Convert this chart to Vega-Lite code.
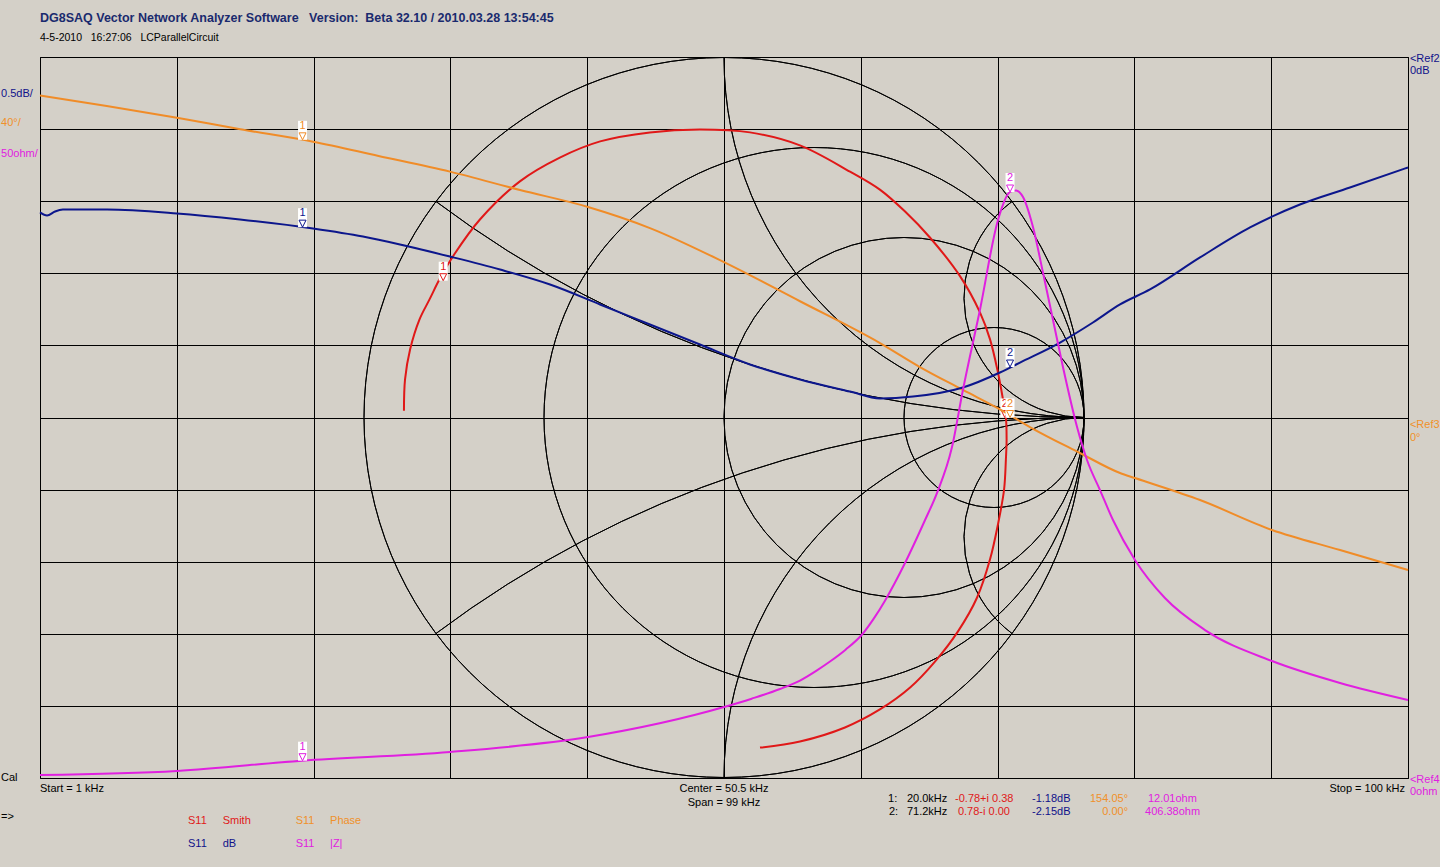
{
  "$schema": "https://vega.github.io/schema/vega-lite/v6.json",
  "width": 1368,
  "height": 721,
  "autosize": "none",
  "padding": {"left": 40, "top": 57, "right": 32, "bottom": 89},
  "background": "#d4d0c8",
  "config": {"view": {"stroke": "#000000", "strokeWidth": 1}, "font": "Liberation Sans"},
  "title": {
    "text": "DG8SAQ Vector Network Analyzer Software \u00a0 Version: \u00a0Beta 32.10 / 2010.03.28 13:54:45",
    "subtitle": "4-5-2010 \u00a0 16:27:06 \u00a0 LCParallelCircuit",
    "anchor": "start",
    "frame": "group",
    "font": "Liberation Sans",
    "fontSize": 12.5,
    "fontWeight": "bold",
    "color": "#1a2a6e",
    "subtitleFont": "Liberation Sans",
    "subtitleFontSize": 10.5,
    "subtitleColor": "#000000",
    "subtitlePadding": 9,
    "offset": 9
  },
  "resolve": {"scale": {"x": "independent", "y": "independent", "color": "independent"}},
  "layer": [
    {
      "layer": [
        {
          "data": {"values": [
            {"cx": 0, "cy": 0, "r": 1, "t0": 0, "t1": 6.2832},
            {"cx": 0.25, "cy": 0, "r": 0.75, "t0": 0, "t1": 6.2832},
            {"cx": 0.5, "cy": 0, "r": 0.5, "t0": 0, "t1": 6.2832},
            {"cx": 0.75, "cy": 0, "r": 0.25, "t0": 0, "t1": 6.2832},
            {"cx": 1, "cy": 1, "r": 1, "t0": 3.1416, "t1": 4.7124},
            {"cx": 1, "cy": -1, "r": 1, "t0": -1.5708, "t1": 0},
            {"cx": 1, "cy": 0.33333, "r": 0.33333, "t0": 3.1416, "t1": 5.6397},
            {"cx": 1, "cy": -0.33333, "r": 0.33333, "t0": -2.4981, "t1": 0},
            {"cx": 1, "cy": 3, "r": 3, "t0": 3.1416, "t1": 3.7851},
            {"cx": 1, "cy": -3, "r": 3, "t0": -0.6435, "t1": 0}
          ]},
          "mark": {"type": "arc", "filled": false, "stroke": "#000000", "strokeWidth": 1, "fillOpacity": 0},
          "encoding": {
            "x": {"field": "cx", "type": "quantitative", "scale": {"domain": [-1.9, 1.9], "nice": false, "zero": false}, "axis": null},
            "y": {"field": "cy", "type": "quantitative", "scale": {"domain": [-1.0014, 1.0014], "nice": false, "zero": false}, "axis": null},
            "theta": {"field": "t0", "type": "quantitative", "scale": null, "stack": null},
            "theta2": {"field": "t1"},
            "radius": {"field": "r", "type": "quantitative", "scale": {"type": "linear", "domain": [0, 1], "range": [0, 360], "zero": true}},
            "radius2": {"field": "r"}
          }
        },
        {
          "data": {"values": [
            {"i": 0, "re": -0.889, "im": 0.019},
            {"i": 1, "re": -0.886, "im": 0.106},
            {"i": 2, "re": -0.872, "im": 0.189},
            {"i": 3, "re": -0.846, "im": 0.272},
            {"i": 4, "re": -0.818, "im": 0.328},
            {"i": 5, "re": -0.787, "im": 0.39},
            {"i": 6, "re": -0.75, "im": 0.452},
            {"i": 7, "re": -0.678, "im": 0.55},
            {"i": 8, "re": -0.567, "im": 0.656},
            {"i": 9, "re": -0.456, "im": 0.722},
            {"i": 10, "re": -0.344, "im": 0.767},
            {"i": 11, "re": -0.206, "im": 0.792},
            {"i": 12, "re": -0.067, "im": 0.8},
            {"i": 13, "re": 0.072, "im": 0.792},
            {"i": 14, "re": 0.211, "im": 0.756},
            {"i": 15, "re": 0.35, "im": 0.683},
            {"i": 16, "re": 0.433, "im": 0.633},
            {"i": 17, "re": 0.503, "im": 0.572},
            {"i": 18, "re": 0.572, "im": 0.5},
            {"i": 19, "re": 0.656, "im": 0.392},
            {"i": 20, "re": 0.711, "im": 0.292},
            {"i": 21, "re": 0.739, "im": 0.217},
            {"i": 22, "re": 0.761, "im": 0.125},
            {"i": 23, "re": 0.775, "im": 0.05},
            {"i": 24, "re": 0.783, "im": 0},
            {"i": 25, "re": 0.785, "im": -0.061},
            {"i": 26, "re": 0.783, "im": -0.117},
            {"i": 27, "re": 0.778, "im": -0.2},
            {"i": 28, "re": 0.761, "im": -0.297},
            {"i": 29, "re": 0.739, "im": -0.394},
            {"i": 30, "re": 0.703, "im": -0.5},
            {"i": 31, "re": 0.65, "im": -0.594},
            {"i": 32, "re": 0.586, "im": -0.678},
            {"i": 33, "re": 0.517, "im": -0.75},
            {"i": 34, "re": 0.433, "im": -0.811},
            {"i": 35, "re": 0.336, "im": -0.861},
            {"i": 36, "re": 0.211, "im": -0.9},
            {"i": 37, "re": 0.1, "im": -0.917}
          ]},
          "mark": {"type": "line", "color": "#e01818", "strokeWidth": 2, "interpolate": "catmull-rom"},
          "encoding": {
            "x": {"field": "re", "type": "quantitative", "axis": null},
            "y": {"field": "im", "type": "quantitative", "axis": null},
            "order": {"field": "i", "type": "quantitative"}
          }
        },
        {
          "data": {"values": [
            {"re": -0.78, "im": 0.38, "lbl": "1"},
            {"re": 0.78, "im": 0, "lbl": "2"}
          ]},
          "encoding": {
            "x": {"field": "re", "type": "quantitative", "axis": null},
            "y": {"field": "im", "type": "quantitative", "axis": null}
          },
          "layer": [
            {"mark": {"type": "point", "shape": "M-4.5,-19H4.5V0H-4.5Z", "size": 4, "filled": true, "color": "#ffffff", "opacity": 1, "strokeWidth": 0}},
            {"mark": {"type": "point", "shape": "M-3.5,-7H3.5L0,0Z", "size": 4, "filled": false, "color": "#e01818", "opacity": 1, "strokeWidth": 1}},
            {"mark": {"type": "text", "dy": -14, "fontSize": 11, "color": "#e01818"}, "encoding": {"text": {"field": "lbl"}}}
          ]
        }
      ]
    },
    {
      "layer": [
        {
          "data": {"values": [
            {"f": 1.0, "v": 178.6}, {"f": 5.83, "v": 172.8}, {"f": 10.91, "v": 166.3}, {"f": 15.5, "v": 159.9},
            {"f": 20.76, "v": 153.0}, {"f": 25.5, "v": 145.1}, {"f": 30.67, "v": 136.4}, {"f": 35.74, "v": 126.2},
            {"f": 40.66, "v": 116.8}, {"f": 45.14, "v": 105.1}, {"f": 50.5, "v": 86.2}, {"f": 56.0, "v": 64.5},
            {"f": 61.79, "v": 41.3}, {"f": 64.68, "v": 28.0}, {"f": 67.79, "v": 15.3}, {"f": 70.69, "v": 3.6},
            {"f": 72.64, "v": -5.3}, {"f": 76.26, "v": -19.7}, {"f": 79.16, "v": -30.8}, {"f": 80.24, "v": -33.6},
            {"f": 84.95, "v": -45.8}, {"f": 90.16, "v": -62.4}, {"f": 95.08, "v": -73.5}, {"f": 100, "v": -84.6}
          ]},
          "mark": {"type": "line", "color": "#f08c28", "strokeWidth": 2, "interpolate": "monotone"},
          "encoding": {
            "x": {"field": "f", "type": "quantitative", "scale": {"domain": [1, 100], "nice": false, "zero": false},
              "axis": {"values": [1, 10.9, 20.8, 30.7, 40.6, 50.5, 60.4, 70.3, 80.2, 90.1, 100], "grid": true, "gridColor": "#000000", "gridOpacity": 1, "gridWidth": 1, "labels": false, "ticks": false, "domain": false, "title": null}},
            "y": {"field": "v", "type": "quantitative", "scale": {"domain": [-200, 200], "nice": false, "zero": false},
              "axis": {"values": [-200, -160, -120, -80, -40, 0, 40, 80, 120, 160, 200], "grid": true, "gridColor": "#000000", "gridOpacity": 1, "gridWidth": 1, "labels": false, "ticks": false, "domain": false, "title": null}}
          }
        },
        {
          "data": {"values": [
            {"f": 20.0, "v": 154.05, "lbl": "1"},
            {"f": 71.2, "v": 0, "lbl": "2"}
          ]},
          "encoding": {
            "x": {"field": "f", "type": "quantitative"},
            "y": {"field": "v", "type": "quantitative"}
          },
          "layer": [
            {"mark": {"type": "point", "shape": "M-4.5,-19H4.5V0H-4.5Z", "size": 4, "filled": true, "color": "#ffffff", "opacity": 1, "strokeWidth": 0}},
            {"mark": {"type": "point", "shape": "M-3.5,-7H3.5L0,0Z", "size": 4, "filled": false, "color": "#f08c28", "opacity": 1, "strokeWidth": 1}},
            {"mark": {"type": "text", "dy": -14, "fontSize": 11, "color": "#f08c28"}, "encoding": {"text": {"field": "lbl"}}}
          ]
        }
      ]
    },
    {
      "layer": [
        {
          "data": {"values": [
            {"f": 1.0, "v": -1.078}, {"f": 1.51, "v": -1.099}, {"f": 2.09, "v": -1.071}, {"f": 2.66, "v": -1.058},
            {"f": 5.85, "v": -1.058}, {"f": 10.91, "v": -1.085}, {"f": 15.47, "v": -1.127}, {"f": 20.76, "v": -1.189},
            {"f": 24.37, "v": -1.245}, {"f": 27.05, "v": -1.30}, {"f": 30.67, "v": -1.384}, {"f": 34.29, "v": -1.474},
            {"f": 37.91, "v": -1.578}, {"f": 41.53, "v": -1.716}, {"f": 45.14, "v": -1.855}, {"f": 48.76, "v": -1.994},
            {"f": 52.38, "v": -2.132}, {"f": 56.0, "v": -2.236}, {"f": 59.62, "v": -2.32}, {"f": 61.79, "v": -2.368},
            {"f": 64.18, "v": -2.355}, {"f": 67.79, "v": -2.292}, {"f": 70.47, "v": -2.188}, {"f": 71.92, "v": -2.119},
            {"f": 74.82, "v": -1.98}, {"f": 77.2, "v": -1.841}, {"f": 79.16, "v": -1.716}, {"f": 81.33, "v": -1.612},
            {"f": 84.95, "v": -1.39}, {"f": 88.57, "v": -1.182}, {"f": 92.18, "v": -1.023}, {"f": 95.8, "v": -0.905},
            {"f": 100, "v": -0.766}
          ]},
          "mark": {"type": "line", "color": "#0c168c", "strokeWidth": 2, "interpolate": "monotone"},
          "encoding": {
            "x": {"field": "f", "type": "quantitative", "scale": {"domain": [1, 100], "nice": false, "zero": false}, "axis": null},
            "y": {"field": "v", "type": "quantitative", "scale": {"domain": [-5, 0], "nice": false, "zero": false}, "axis": null}
          }
        },
        {
          "data": {"values": [
            {"f": 20.0, "v": -1.18, "lbl": "1"},
            {"f": 71.2, "v": -2.15, "lbl": "2"}
          ]},
          "encoding": {
            "x": {"field": "f", "type": "quantitative"},
            "y": {"field": "v", "type": "quantitative"}
          },
          "layer": [
            {"mark": {"type": "point", "shape": "M-4.5,-19H4.5V0H-4.5Z", "size": 4, "filled": true, "color": "#ffffff", "opacity": 1, "strokeWidth": 0}},
            {"mark": {"type": "point", "shape": "M-3.5,-7H3.5L0,0Z", "size": 4, "filled": false, "color": "#0c168c", "opacity": 1, "strokeWidth": 1}},
            {"mark": {"type": "text", "dy": -14, "fontSize": 11, "color": "#0c168c"}, "encoding": {"text": {"field": "lbl"}}}
          ]
        }
      ]
    },
    {
      "layer": [
        {
          "data": {"values": [
            {"f": 1.0, "v": 2.1}, {"f": 10.91, "v": 4.9}, {"f": 19.96, "v": 12.0}, {"f": 30.67, "v": 18.0},
            {"f": 40.66, "v": 28.4}, {"f": 50.5, "v": 49.2}, {"f": 52.5, "v": 55.0}, {"f": 54.55, "v": 61.7},
            {"f": 56.0, "v": 67.6}, {"f": 57.2, "v": 74.5}, {"f": 58.17, "v": 80.8}, {"f": 59.3, "v": 89.0},
            {"f": 60.49, "v": 99.5}, {"f": 61.3, "v": 110.0}, {"f": 62.15, "v": 123.0},
            {"f": 63.6, "v": 149.1}, {"f": 65.05, "v": 178.9},
            {"f": 65.91, "v": 197.6}, {"f": 67.0, "v": 229.5}, {"f": 67.79, "v": 269.1}, {"f": 69.02, "v": 324.6},
            {"f": 70.33, "v": 387.0}, {"f": 71.2, "v": 406.4}, {"f": 71.63, "v": 407.5}, {"f": 72.14, "v": 402.9},
            {"f": 72.86, "v": 382.1}, {"f": 73.59, "v": 350.2}, {"f": 74.31, "v": 317.6}, {"f": 75.03, "v": 285.0},
            {"f": 76.05, "v": 243.4}, {"f": 76.77, "v": 220.5}, {"f": 77.71, "v": 199.7}, {"f": 78.65, "v": 178.9},
            {"f": 80.24, "v": 151.2}, {"f": 82.41, "v": 124.8}, {"f": 85.31, "v": 102.6}, {"f": 90.16, "v": 81.1},
            {"f": 95.08, "v": 65.9}, {"f": 100, "v": 54.1}
          ]},
          "mark": {"type": "line", "color": "#e020e0", "strokeWidth": 2, "interpolate": "monotone"},
          "encoding": {
            "x": {"field": "f", "type": "quantitative", "scale": {"domain": [1, 100], "nice": false, "zero": false}, "axis": null},
            "y": {"field": "v", "type": "quantitative", "scale": {"domain": [0, 500], "nice": false, "zero": false}, "axis": null}
          }
        },
        {
          "data": {"values": [
            {"f": 20.0, "v": 12.01, "lbl": "1"},
            {"f": 71.2, "v": 406.38, "lbl": "2"}
          ]},
          "encoding": {
            "x": {"field": "f", "type": "quantitative"},
            "y": {"field": "v", "type": "quantitative"}
          },
          "layer": [
            {"mark": {"type": "point", "shape": "M-4.5,-19H4.5V0H-4.5Z", "size": 4, "filled": true, "color": "#ffffff", "opacity": 1, "strokeWidth": 0}},
            {"mark": {"type": "point", "shape": "M-3.5,-7H3.5L0,0Z", "size": 4, "filled": false, "color": "#e020e0", "opacity": 1, "strokeWidth": 1}},
            {"mark": {"type": "text", "dy": -14, "fontSize": 11, "color": "#e020e0"}, "encoding": {"text": {"field": "lbl"}}}
          ]
        }
      ]
    },
    {
      "data": {"values": [
        {"t": "0.5dB/", "f": -1.82, "d": 9.48, "c": "b", "al": "l"},
        {"t": "40°/", "f": -1.82, "d": 9.08, "c": "o", "al": "l"},
        {"t": "50ohm/", "f": -1.82, "d": 8.66, "c": "m", "al": "l"},
        {"t": "Cal", "f": -1.82, "d": 0.0, "c": "k", "al": "l"},
        {"t": "=>", "f": -1.82, "d": -0.54, "c": "k", "al": "l"},
        {"t": "Start = 1 kHz", "f": 1.0, "d": -0.15, "c": "k", "al": "l"},
        {"t": "Center = 50.5 kHz", "f": 50.5, "d": -0.15, "c": "k", "al": "c"},
        {"t": "Span = 99 kHz", "f": 50.5, "d": -0.345, "c": "k", "al": "c"},
        {"t": "Stop = 100 kHz", "f": 99.78, "d": -0.15, "c": "k", "al": "r"},
        {"t": "<Ref2", "f": 100.14, "d": 9.975, "c": "b", "al": "l"},
        {"t": "0dB", "f": 100.14, "d": 9.81, "c": "b", "al": "l"},
        {"t": "<Ref3", "f": 100.14, "d": 4.9, "c": "o", "al": "l"},
        {"t": "0°", "f": 100.14, "d": 4.72, "c": "o", "al": "l"},
        {"t": "<Ref4", "f": 100.14, "d": -0.03, "c": "m", "al": "l"},
        {"t": "0ohm", "f": 100.14, "d": -0.19, "c": "m", "al": "l"},
        {"t": "S11", "f": 11.71, "d": -0.592, "c": "r", "al": "l"},
        {"t": "Smith", "f": 14.22, "d": -0.592, "c": "r", "al": "l"},
        {"t": "S11", "f": 11.71, "d": -0.915, "c": "b", "al": "l"},
        {"t": "dB", "f": 14.22, "d": -0.915, "c": "b", "al": "l"},
        {"t": "S11", "f": 19.5, "d": -0.592, "c": "o", "al": "l"},
        {"t": "Phase", "f": 21.99, "d": -0.592, "c": "o", "al": "l"},
        {"t": "S11", "f": 19.5, "d": -0.915, "c": "m", "al": "l"},
        {"t": "|Z|", "f": 21.99, "d": -0.915, "c": "m", "al": "l"},
        {"t": "1:", "f": 62.37, "d": -0.291, "c": "k", "al": "l"},
        {"t": "20.0kHz", "f": 63.74, "d": -0.291, "c": "k", "al": "l"},
        {"t": "-0.78+i 0.38", "f": 67.22, "d": -0.291, "c": "r", "al": "l"},
        {"t": "-1.18dB", "f": 72.79, "d": -0.291, "c": "b", "al": "l"},
        {"t": "154.05°", "f": 79.74, "d": -0.291, "c": "o", "al": "r"},
        {"t": "12.01ohm", "f": 81.18, "d": -0.291, "c": "m", "al": "l"},
        {"t": "2:", "f": 62.44, "d": -0.472, "c": "k", "al": "l"},
        {"t": "71.2kHz", "f": 63.74, "d": -0.472, "c": "k", "al": "l"},
        {"t": "0.78-i 0.00", "f": 67.43, "d": -0.472, "c": "r", "al": "l"},
        {"t": "-2.15dB", "f": 72.79, "d": -0.472, "c": "b", "al": "l"},
        {"t": "0.00°", "f": 79.74, "d": -0.472, "c": "o", "al": "r"},
        {"t": "406.38ohm", "f": 80.97, "d": -0.472, "c": "m", "al": "l"}
      ]},
      "encoding": {
        "x": {"field": "f", "type": "quantitative", "scale": {"domain": [1, 100], "nice": false, "zero": false}, "axis": null},
        "y": {"field": "d", "type": "quantitative", "scale": {"domain": [0, 10], "nice": false, "zero": false}, "axis": null},
        "text": {"field": "t"},
        "color": {"field": "c", "type": "nominal", "scale": {"domain": ["k", "b", "o", "m", "r"], "range": ["#000000", "#10108a", "#f0902a", "#e020e0", "#e01818"]}, "legend": null}
      },
      "layer": [
        {"transform": [{"filter": "datum.al == 'l'"}], "mark": {"type": "text", "align": "left", "baseline": "middle", "fontSize": 11}},
        {"transform": [{"filter": "datum.al == 'c'"}], "mark": {"type": "text", "align": "center", "baseline": "middle", "fontSize": 11}},
        {"transform": [{"filter": "datum.al == 'r'"}], "mark": {"type": "text", "align": "right", "baseline": "middle", "fontSize": 11}}
      ]
    }
  ]
}
